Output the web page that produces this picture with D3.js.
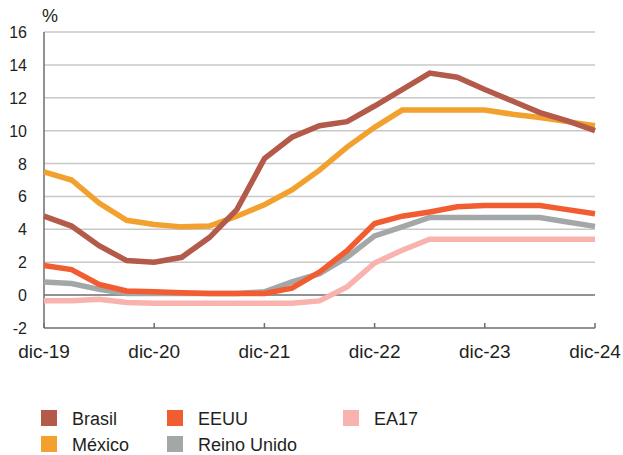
<!DOCTYPE html>
<html><head><meta charset="utf-8">
<script src="https://cdn.jsdelivr.net/npm/d3@7"></script>
<style>body{margin:0;background:#fff}svg{display:block}</style>
</head><body>
<svg id="c" width="623" height="455"></svg>
<script>
// quarters from dic-19 to dic-24 (21 points)
const quarters = d3.range(21);
const xTickLabels = ["dic-19","dic-20","dic-21","dic-22","dic-23","dic-24"];
const yTicks = [-2,0,2,4,6,8,10,12,14,16];
const seriesNames = ["Brasil","México","EEUU","Reino Unido","EA17"];
const seriesColors = ["#b35a4b","#f2a12e","#f25c31","#a3a7a8","#f8b3ae"];
const brasil = [4.8,4.2,3.0,2.1,2.0,2.3,3.5,5.2,8.3,9.6,10.3,10.55,11.5,12.5,13.5,13.25,12.5,11.8,11.1,10.6,10.0];
const mexico = [7.5,7.0,5.6,4.55,4.3,4.15,4.2,4.8,5.5,6.4,7.6,9.0,10.2,11.25,11.25,11.25,11.25,11.0,10.8,10.55,10.3];
const eeuu = [1.8,1.55,0.65,0.25,0.2,0.15,0.1,0.1,0.1,0.42,1.4,2.7,4.35,4.8,5.05,5.37,5.45,5.45,5.45,5.2,4.95];
const reinoUnido = [0.8,0.7,0.35,0.1,0.1,0.1,0.1,0.1,0.2,0.8,1.3,2.3,3.6,4.15,4.72,4.72,4.72,4.72,4.72,4.45,4.18];
const ea17 = [-0.35,-0.35,-0.25,-0.45,-0.5,-0.5,-0.5,-0.5,-0.5,-0.5,-0.35,0.5,1.95,2.73,3.4,3.4,3.4,3.4,3.4,3.4,3.4];
const seriesValues = [brasil,mexico,eeuu,reinoUnido,ea17];

const svg = d3.select("#c");
const L=44, R=595, T=32, B=328;
const x = d3.scaleLinear().domain([0,20]).range([L,R]);
const y = d3.scaleLinear().domain([-2,16]).range([B,T]);
const font = "'Liberation Sans', Arial, Helvetica, sans-serif";
const txt = "#231f20";

// gridlines
svg.append("g").selectAll("line").data(yTicks.filter(v=>v!==-2)).join("line")
  .attr("x1",L).attr("x2",R).attr("y1",d=>y(d)).attr("y2",d=>y(d))
  .attr("stroke",d=>d===0?"#6d6e71":"#c8c8c8").attr("stroke-width",1.5);

// y labels
svg.append("g").selectAll("text").data(yTicks).join("text")
  .attr("x",27).attr("y",d=>y(d)+6).attr("text-anchor","end")
  .attr("font-family",font).attr("font-size",16).attr("fill",txt).text(d=>d);
svg.append("text").attr("x",42).attr("y",22).attr("font-family",font).attr("font-size",18).attr("fill",txt).text("%");

// axes lines
svg.append("line").attr("x1",L).attr("x2",L).attr("y1",T).attr("y2",B).attr("stroke","#6d6e71").attr("stroke-width",1.5);
svg.append("line").attr("x1",L).attr("x2",R).attr("y1",B).attr("y2",B).attr("stroke","#6d6e71").attr("stroke-width",1.5);
// x ticks
const xt = xTickLabels.map((t,i)=>({t, q:i*4}));
svg.append("g").selectAll("line").data(xt).join("line")
  .attr("x1",d=>x(d.q)).attr("x2",d=>x(d.q)).attr("y1",B-5).attr("y2",B)
  .attr("stroke","#6d6e71").attr("stroke-width",1.5);
svg.append("g").selectAll("text").data(xt).join("text")
  .attr("x",d=>x(d.q)).attr("y",358).attr("text-anchor","middle")
  .attr("font-family",font).attr("font-size",19).attr("fill",txt).text(d=>d.t);

// lines
const line = d3.line().x((d,i)=>x(quarters[i])).y(d=>y(d));
const order = [4,3,2,1,0];
svg.append("g").selectAll("path").data(order).join("path")
  .attr("d",i=>line(seriesValues[i])).attr("fill","none")
  .attr("stroke",i=>seriesColors[i]).attr("stroke-width",5.5).attr("stroke-linejoin","miter");

// legend
const legPos = [[41,410],[41,436],[167,410],[167,436],[343,410]];
const lg = svg.append("g").selectAll("g").data(seriesNames).join("g")
  .attr("transform",(d,i)=>`translate(${legPos[i][0]},${legPos[i][1]})`);
lg.append("rect").attr("width",16).attr("height",16).attr("fill",(d,i)=>seriesColors[i]);
lg.append("text").attr("x",31).attr("y",14.5).attr("font-family",font).attr("font-size",18).attr("fill",txt).text(d=>d);
</script>
</body></html>
